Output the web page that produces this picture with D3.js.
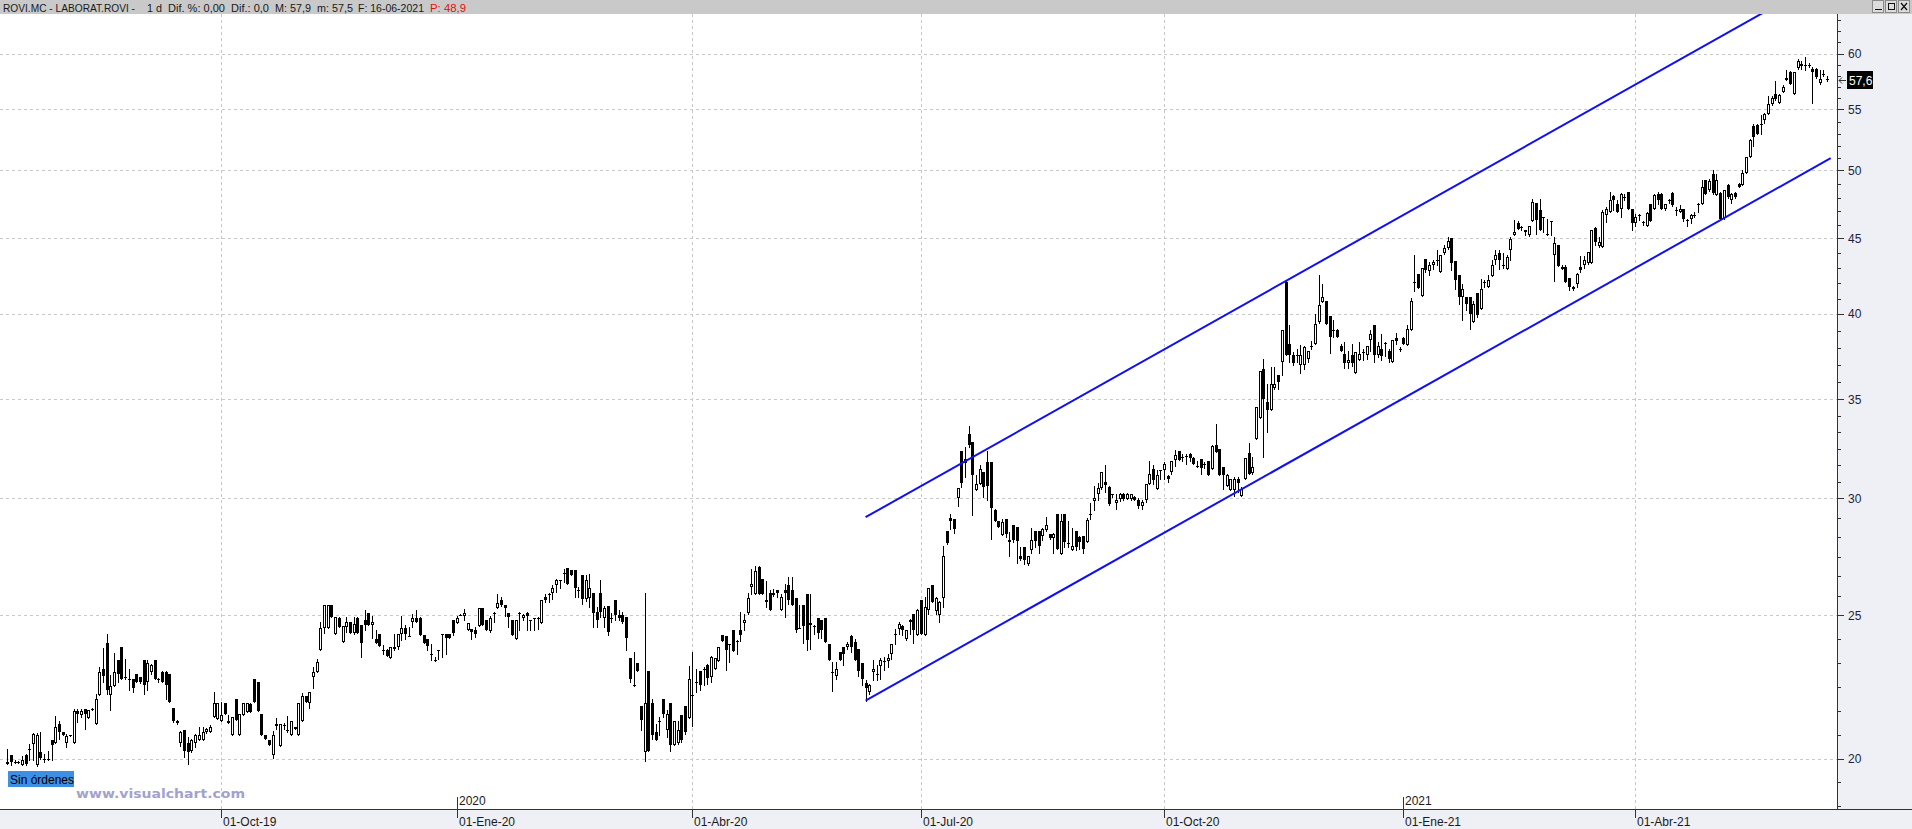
<!DOCTYPE html>
<html><head><meta charset="utf-8">
<script src="https://cdn.jsdelivr.net/npm/d3@7"></script>
<style>html,body{margin:0;padding:0;background:#fff;overflow:hidden}</style>
</head><body>
<svg id="c" width="1912" height="829"></svg>
<script>
// Daily candles [open, high, low, close], 11-Jul-2019 .. 16-Jun-2021
const candles = [
[19.89,20.30,19.83,19.83],[20.12,20.12,19.81,19.89],[19.90,19.94,19.86,19.89],[19.88,19.92,19.86,19.90],[19.81,20.09,19.80,19.94],
[20.12,20.14,19.81,19.83],[20.30,20.46,19.94,20.28],[20.46,20.80,19.94,20.78],[19.81,20.80,19.78,20.73],[20.20,20.83,19.99,20.02],
[19.99,20.15,19.89,19.99],[20.00,20.25,19.94,19.99],[20.59,20.59,19.94,20.43],[20.49,21.36,20.49,21.02],[21.11,21.22,20.62,20.83],
[20.83,20.85,20.74,20.76],[20.49,20.79,20.36,20.72],[20.73,20.75,20.70,20.74],[20.49,21.61,20.49,21.52],[21.52,21.61,21.17,21.44],
[21.41,21.61,21.33,21.52],[21.61,21.61,20.95,21.44],[21.31,21.58,21.31,21.58],[21.60,21.63,21.58,21.61],[21.11,22.13,21.11,21.93],
[22.09,23.08,22.09,22.89],[23.01,23.74,22.53,22.75],[23.93,24.29,22.12,22.26],[22.09,22.78,21.56,22.40],[22.40,23.56,22.40,22.89],
[23.32,23.32,22.53,22.83],[23.81,23.81,22.63,22.63],[22.68,23.36,22.63,22.70],[22.60,23.01,22.26,22.63],[22.63,22.63,22.18,22.32],
[22.80,22.82,22.53,22.53],[22.70,22.72,22.50,22.53],[23.32,23.32,22.13,22.43],[22.53,23.32,22.24,23.20],[22.89,23.19,22.83,23.13],
[23.32,23.32,22.63,22.63],[22.62,22.66,22.53,22.64],[22.90,22.92,22.53,22.53],[22.90,22.92,21.95,22.43],[22.80,22.80,21.83,21.83],
[21.63,21.63,21.17,21.22],[21.22,21.24,21.10,21.13],[20.48,20.88,20.40,20.83],[20.91,20.91,20.04,20.23],[20.49,20.69,19.83,20.20],
[20.23,20.61,20.20,20.59],[20.49,20.79,20.36,20.73],[20.59,21.00,20.57,20.73],[20.59,21.00,20.57,20.83],[20.83,20.97,20.82,20.95],
[20.83,21.08,20.83,21.00],[21.33,22.20,21.33,21.80],[21.27,21.82,21.27,21.81],[21.22,21.83,21.22,21.41],[21.80,21.80,21.44,21.44],
[21.22,21.39,21.14,21.14],[20.73,21.33,20.73,21.33],[21.93,21.93,21.24,21.24],[20.73,21.42,20.73,21.42],[21.41,21.80,21.41,21.80],
[21.50,21.80,21.50,21.80],[21.78,21.80,21.50,21.50],[22.63,22.63,21.83,21.83],[22.53,22.53,21.52,21.52],[21.42,21.42,20.73,20.73],
[20.73,20.73,20.62,20.62],[20.59,20.59,20.43,20.43],[20.11,20.88,20.01,20.73],[21.03,21.30,20.95,21.11],[20.39,21.11,20.39,21.11],
[21.06,21.14,20.93,21.08],[20.91,21.36,20.83,20.92],[20.73,21.20,20.73,21.20],[21.02,21.02,20.95,20.95],[20.73,21.81,20.73,21.81],
[21.22,22.14,21.22,22.03],[22.03,22.03,21.83,21.83],[21.81,22.18,21.63,22.18],[22.70,23.08,22.32,22.90],[22.89,23.37,22.89,23.23],
[23.69,24.73,23.69,24.52],[24.52,25.41,24.31,25.41],[24.52,25.41,24.52,25.41],[25.41,25.41,24.93,24.93],[24.29,24.93,24.29,24.93],
[24.90,24.92,24.54,24.54],[23.98,24.58,23.98,24.58],[24.54,24.95,24.34,24.73],[24.73,24.73,24.31,24.31],[24.31,24.93,24.29,24.67],
[24.90,24.92,24.31,24.31],[24.61,24.61,23.43,23.94],[24.80,25.21,24.43,24.61],[25.08,25.08,24.63,24.63],[24.64,24.97,24.14,24.73],
[24.10,24.42,23.93,23.94],[24.29,24.29,23.83,23.83],
[23.63,23.86,23.54,23.70],[23.70,23.72,23.45,23.45],[23.40,23.79,23.38,23.79],[23.72,24.29,23.70,23.79],[23.80,24.29,23.72,24.29],
[24.29,24.99,24.04,24.50],[24.50,24.61,24.11,24.29],[24.22,24.54,24.20,24.21],[24.74,25.06,24.54,24.89],[24.90,25.20,24.74,24.74],
[24.90,24.92,24.23,24.23],[24.23,24.23,23.95,23.95],[24.11,24.11,23.67,23.84],[23.52,23.92,23.33,23.50],[23.31,23.42,23.28,23.30],
[23.70,23.70,23.37,23.69],[24.25,24.29,23.42,24.27],[24.27,24.29,23.54,24.15],[24.27,24.27,24.14,24.14],[24.80,24.80,24.23,24.32],
[24.70,24.99,24.70,24.90],[25.02,25.04,25.00,25.03],[24.99,25.25,24.80,25.09],[24.42,24.71,24.42,24.71],[24.48,24.48,24.11,24.36],
[24.42,24.54,24.18,24.27],[24.58,25.29,24.58,25.29],[25.29,25.29,24.64,24.64],[24.80,24.80,24.42,24.42],[24.39,24.99,24.36,24.90],
[25.06,25.12,24.74,25.08],[25.29,25.85,25.29,25.48],[25.61,25.72,25.38,25.42],[25.42,25.42,24.99,25.28],[25.08,25.08,24.54,24.95],
[24.80,24.80,24.23,24.23],[24.11,24.80,24.11,24.80],[25.07,25.12,24.42,25.09],[24.89,25.06,24.80,25.00],[25.08,25.12,24.44,24.99],
[24.79,24.80,24.42,24.80],[24.88,24.90,24.42,24.89],[24.89,24.92,24.48,24.90],[24.71,25.61,24.71,25.61],[25.72,25.85,25.52,25.61],
[25.84,25.88,25.52,25.85],[25.88,26.19,25.65,26.09],[26.22,26.46,25.92,26.42],[26.40,26.42,26.09,26.42],[26.70,26.88,26.33,26.71],
[26.92,26.92,26.26,26.26],[26.81,26.81,26.60,26.60],[26.81,26.81,25.72,26.09],[26.00,26.12,25.72,26.01],[26.60,26.60,25.45,25.65],
[25.63,26.60,25.58,26.42],[25.69,26.65,25.32,26.09],[25.88,25.88,24.54,25.08],[25.12,25.32,24.54,24.82],[25.88,26.42,24.92,25.12],
[24.90,25.38,24.54,25.29],[25.38,25.38,24.23,24.36],[24.88,25.08,24.74,24.89],[25.61,25.61,24.80,25.03],[25.01,25.19,24.80,24.89],
[25.01,25.12,24.70,24.74],[24.92,24.92,23.70,24.14],[23.40,23.40,22.54,22.63],[22.42,23.60,22.39,22.42],[23.22,23.22,22.92,22.92],
[21.72,21.72,20.92,21.24],[20.21,25.88,19.92,21.81],[22.91,22.91,20.23,20.23],[21.81,21.95,20.62,20.73],[20.83,21.11,20.57,20.60],
[21.18,21.33,20.73,21.19],[21.93,21.93,21.33,21.44],[20.92,21.56,20.67,21.42],[21.81,21.81,20.25,20.43],[20.43,21.20,20.43,21.20],
[20.49,21.21,20.46,20.91],[21.41,21.41,20.52,20.60],[21.72,21.72,20.78,20.83],[21.31,23.09,21.31,22.63],[22.05,23.62,21.05,22.09],
[22.50,22.98,22.18,22.52],[22.91,22.91,22.24,22.44],[22.98,23.06,22.42,23.00],[23.12,23.18,22.47,22.68],[22.70,23.45,22.54,23.42],
[23.00,23.40,23.00,23.40],[23.28,23.79,23.28,23.79],[24.23,24.23,24.01,24.01],[24.20,24.20,22.94,23.70],[23.90,23.92,23.24,23.92],
[24.42,24.42,23.65,23.65],[24.00,24.04,23.54,24.02],[24.42,25.12,24.02,24.23],[24.71,25.06,24.42,24.80],[25.09,25.88,25.06,25.69],
[26.11,26.88,25.85,26.25],[25.85,26.98,25.85,26.78],[26.95,26.98,25.85,25.85],[26.44,26.44,25.85,25.85],[25.51,26.39,25.32,25.60],
[25.89,26.00,25.22,25.22],[25.82,26.05,25.78,25.90],[26.00,26.00,25.72,25.88],[25.22,25.85,25.19,25.72],[26.00,26.26,24.93,25.88],
[26.22,26.53,25.45,25.62],[26.00,26.53,25.42,25.42],[25.69,25.69,24.36,24.42],[24.50,25.42,24.50,24.52],[25.40,25.40,23.95,24.58],
[25.83,25.83,23.67,24.04],[24.61,25.83,23.73,24.71],[24.58,24.62,24.29,24.56],[24.90,24.90,24.13,24.33],[24.80,24.80,24.13,24.45],
[24.90,24.90,23.98,23.98],[23.91,23.91,23.30,23.30],[22.90,23.24,22.23,22.88],[22.76,23.24,22.64,23.00],[23.61,23.61,23.30,23.30],
[23.79,23.79,23.12,23.54],[23.79,23.98,23.73,23.91],[24.19,24.23,23.61,23.79],[23.98,24.10,23.30,23.30],[23.73,23.73,22.76,22.91],
[23.20,23.20,22.41,22.64],[22.49,22.59,21.89,22.32],[22.17,22.47,22.12,22.41],[22.88,23.30,22.59,23.00],[22.79,23.12,22.61,22.80],
[23.09,23.39,22.64,23.30],[23.28,23.42,22.94,23.26],[23.27,23.54,23.06,23.39],[23.52,23.91,23.36,23.91],[24.29,24.48,23.91,24.29],
[24.46,24.74,24.29,24.68],[24.58,24.61,24.23,24.42],[24.10,24.45,24.06,24.42],[24.74,24.87,24.29,24.80],[25.06,25.06,23.95,24.42],
[24.23,25.25,24.23,25.19],[25.62,25.62,24.30,24.30],[24.23,25.72,24.23,25.32],[25.22,26.10,25.06,26.10],[26.22,26.22,25.52,25.52],
[25.16,25.72,25.06,25.69],[25.03,25.58,24.74,25.52],[25.69,27.87,25.32,27.40],[28.50,28.50,27.94,27.96],[29.09,29.28,28.61,28.95],
[29.06,29.06,28.42,28.61],[30.00,30.49,29.62,30.49],[32.29,32.29,30.52,30.72],[31.72,32.50,31.01,31.90],[33.14,33.60,32.51,32.61],
[32.74,32.74,29.21,31.12],[30.37,31.09,30.37,30.68],[30.68,31.59,30.68,31.41],[31.26,31.26,30.05,30.52],[31.74,32.32,29.90,30.60],
[31.74,31.74,28.16,29.56],[29.44,29.51,28.95,28.95],[28.95,28.95,28.68,28.71],[28.35,29.06,28.35,28.93],[29.04,29.04,28.24,28.38],
[28.12,28.46,27.44,28.02],[28.80,28.80,28.02,28.12],[28.68,28.68,27.12,28.09],[27.40,27.80,27.27,27.30],[27.80,27.82,27.09,27.27],
[27.09,27.40,27.02,27.40],[27.69,28.65,27.55,28.12],[28.50,28.50,27.80,28.06],[28.50,28.50,27.55,27.85],[28.31,28.65,28.12,28.61],
[28.57,29.13,28.50,28.76],[28.38,28.38,28.16,28.21],[28.21,28.41,27.55,28.38],[29.28,29.28,27.73,27.73],[27.51,29.28,27.51,28.95],
[29.28,29.28,27.80,28.02],[27.96,28.98,27.80,27.98],[27.66,28.65,27.66,27.83],[28.53,28.53,27.66,27.80],[28.24,28.31,27.73,28.02],
[28.27,28.27,27.55,27.73],[28.02,29.09,28.02,29.01],[29.25,29.78,29.06,29.28],[29.88,30.56,29.44,30.03],[30.21,30.72,29.93,30.49],
[30.49,31.26,30.45,31.26],[30.76,31.59,30.29,30.64],[30.55,30.60,29.67,29.75],[30.17,30.21,30.05,30.19],[29.80,30.21,29.51,29.90],
[29.95,30.25,29.88,30.18],[30.21,30.25,29.94,29.95],[29.98,30.25,29.95,30.21],[29.98,30.21,29.94,30.19],[30.05,30.10,29.90,29.93],
[29.90,30.00,29.55,29.65],[29.65,29.90,29.50,29.85],[29.90,30.68,29.85,30.68],[30.68,31.82,30.68,31.17],[31.41,31.58,30.68,30.89],
[30.44,31.33,30.44,31.09],[31.30,31.36,30.93,31.33],[31.33,31.74,30.93,31.63],[31.04,31.09,30.76,30.93],[31.25,31.82,31.17,31.82],
[31.86,32.33,31.54,32.10],[32.28,32.30,31.86,31.86],[31.97,32.15,31.78,31.99],[32.00,32.15,31.66,32.03],[32.15,32.18,31.82,31.93],
[31.95,31.99,31.66,31.66],[31.55,31.82,31.50,31.52],[31.90,31.90,31.17,31.43],[31.62,31.74,31.43,31.63],[31.82,31.82,31.09,31.09],
[31.41,32.58,31.41,32.53],[32.61,33.69,32.24,32.24],[32.41,32.41,31.09,31.09],[31.52,31.52,30.44,31.09],[30.57,31.17,30.57,31.13],
[30.40,30.93,30.37,30.90],[30.37,31.01,30.13,30.93],[30.90,31.01,30.29,30.72],[30.13,30.52,30.13,30.44],[30.92,31.93,30.92,31.93],
[32.19,32.69,31.17,31.17],[31.20,32.00,31.17,31.52],[32.92,34.58,32.92,34.58],[34.01,36.56,34.01,36.56],[36.71,37.28,31.99,35.03],
[34.85,35.86,33.26,34.40],[34.40,36.80,34.40,35.85],[35.65,36.80,35.58,35.86],[36.33,36.33,35.58,35.95],[37.09,39.02,36.33,38.97],
[42.02,42.10,37.48,37.48],[38.13,39.33,37.09,37.53],[37.53,37.67,36.90,37.04],[37.45,37.87,37.09,37.48],[36.90,38.07,36.47,37.48],
[36.90,38.01,36.71,37.97],[37.28,37.77,37.09,37.72],[37.98,38.36,37.87,38.01],[38.17,39.99,38.17,39.38],[39.48,42.46,39.43,40.52],
[40.73,41.91,40.73,41.05],[40.83,40.83,39.38,39.38],[39.83,39.83,37.62,38.57],[39.00,39.58,38.57,39.01],[39.01,39.05,38.57,38.57],
[38.01,38.17,37.72,37.77],[37.58,38.26,36.76,37.04],[37.04,37.77,36.76,37.24],[37.53,38.17,36.85,37.04],[36.47,37.67,36.47,37.67],
[37.24,38.26,37.19,37.58],[37.60,37.87,37.19,37.67],[37.48,38.01,37.28,38.01],[38.40,38.97,37.77,38.73],[39.33,39.33,37.09,37.48],
[37.53,38.26,37.38,38.01],[37.87,38.73,37.24,37.43],[38.13,38.26,37.43,38.21],[37.77,37.87,37.09,37.28],[37.09,38.40,37.09,38.40],
[38.53,38.81,38.17,38.32],[37.88,37.97,37.77,37.85],[38.53,38.57,38.13,38.17],[38.07,39.28,38.07,39.07],[38.97,40.99,38.97,40.83],
[42.02,43.80,41.44,42.00],[42.52,42.52,41.65,41.65],[41.15,42.94,41.15,42.94],[43.57,43.57,42.68,42.79],[42.75,43.35,42.46,43.13],
[43.13,43.46,42.90,43.35],[43.44,44.14,43.13,43.48],[42.68,43.80,42.68,43.80],[43.95,44.55,43.91,44.32],[44.32,45.07,44.25,44.83],
[45.02,45.02,42.79,43.30],[43.44,43.44,41.56,42.17],[42.50,42.50,40.62,41.05],[41.05,41.91,39.58,41.58],[41.05,41.05,40.20,40.62],
[41.05,41.05,39.07,39.99],[39.48,40.83,39.48,40.62],[41.30,41.30,39.79,39.89],[40.31,42.24,40.31,41.58],[41.98,42.16,41.69,42.02],
[41.73,42.46,41.69,42.13],
[42.45,43.46,42.45,43.16],[43.50,44.19,43.23,43.80],[43.95,44.14,42.90,43.46],[43.14,43.95,42.96,43.10],[42.90,43.80,42.90,43.68],
[44.19,45.11,43.46,44.95],[45.19,46.30,45.19,45.42],[46.06,46.22,45.66,45.66],[45.78,45.89,45.54,45.76],[45.42,45.58,45.19,45.54],
[45.19,45.89,45.12,45.89],[46.25,47.85,46.25,47.60],[47.52,47.52,45.30,46.30],[47.03,47.80,45.60,45.60],[46.45,46.54,45.42,46.49],
[45.25,46.37,45.19,45.30],[46.25,46.25,45.19,46.13],[43.80,45.07,42.12,44.65],[44.49,44.49,43.10,43.10],[42.89,43.14,42.89,43.01],
[43.01,43.14,42.00,42.00],[42.30,42.30,41.52,41.69],[41.58,41.79,41.50,41.69],[41.90,42.60,41.69,42.56],[43.01,43.77,42.67,42.80],
[43.14,43.77,42.96,43.46],[43.28,44.02,43.23,44.02],[43.28,45.60,43.28,45.54],[45.73,45.77,44.49,44.70],[44.44,45.07,44.37,44.72],
[44.37,46.98,44.37,46.86],[46.62,47.20,46.13,47.11],[46.84,48.34,46.84,47.72],[48.02,48.10,46.98,47.77],[47.42,47.77,46.84,46.86],
[47.11,48.30,46.49,48.22],[47.95,48.22,47.77,47.97],[48.39,48.39,47.11,47.11],[47.11,47.11,45.58,46.06],[46.06,46.74,45.89,46.54],
[46.64,46.74,46.30,46.67],[46.15,46.25,45.96,46.13],[45.89,46.86,45.89,46.79],[47.42,47.47,46.20,46.20],[47.11,48.22,47.11,48.10],
[48.22,48.34,47.47,47.77],[48.22,48.27,47.11,47.11],[47.06,47.47,47.01,47.47],[47.71,47.85,47.52,47.75],[48.27,48.32,47.28,47.35],
[47.02,47.23,46.62,47.04],[46.86,47.35,46.84,47.11],[47.11,47.11,46.20,46.37],[46.27,46.37,45.89,46.23],[46.37,46.74,46.06,46.62],
[46.60,46.86,46.49,46.62],[47.35,47.52,46.86,47.47],[47.47,49.28,47.42,48.72],[49.23,49.28,48.22,48.22],[48.47,49.36,48.40,49.18],
[49.69,50.00,48.20,48.27],[48.10,49.74,48.10,49.30],[48.27,48.34,46.37,46.37],[46.40,48.52,46.37,48.52],[48.92,48.97,47.90,47.97],
[47.72,48.30,47.55,48.22],[48.27,48.34,47.92,47.97],[48.97,49.05,48.70,48.72],[48.92,50.00,48.92,49.79],[49.79,51.10,49.79,51.05],
[51.05,52.49,51.05,52.45],[53.63,53.77,51.98,52.72],[53.71,53.77,52.95,52.95],[53.75,54.48,52.95,53.71],[54.10,54.68,53.83,54.62],
[54.62,56.12,54.62,55.42],[55.42,56.12,55.34,56.00],[56.35,57.47,55.83,55.91],[55.54,56.35,55.54,56.20],[56.50,57.09,56.50,56.94],
[57.53,58.50,57.53,57.74],[58.29,58.38,57.23,57.23],[56.35,58.29,56.35,58.29],[58.68,59.50,58.59,59.29],[59.05,59.29,58.59,58.80],
[58.92,59.72,58.50,58.89],[58.95,59.11,58.74,58.92],[58.59,58.74,55.53,58.29],[58.59,58.62,57.77,57.83],[57.29,58.44,57.23,57.68],
[58.13,58.47,57.92,58.10],[57.70,57.90,57.50,57.60]
];

const yTickValues = [20, 25, 30, 35, 40, 45, 50, 55, 60];
const dateTickIndex = [58, 122, 186, 248, 314, 379, 442];
const dateTickLabels = ["01-Oct-19", "01-Ene-20", "01-Abr-20", "01-Jul-20", "01-Oct-20", "01-Ene-21", "01-Abr-21"];
const yearLabels = [null, "2020", null, null, null, "2021", null];
const lowerChannel = [[233, 21.89], [495, 50.97]];
const upperChannel = [[233, 29.13], [495, 67.83]];
const lastPrice = "57,6";
const headerParts = [
  ["ROVI.MC - LABORAT.ROVI -", 3, 132],
  ["1 d", 147, 15],
  ["Dif. %: 0,00", 168, 57],
  ["Dif.: 0,0", 231, 38],
  ["M: 57,9", 275, 36],
  ["m: 57,5", 317, 36],
  ["F: 16-06-2021", 358, 66],
  ["P: 48,9", 430, 36]
];

const W = 1912, H = 829;
const P = {l: 0, r: 1837, t: 14, b: 809};
const FONT = "'Liberation Sans', Arial, sans-serif";

const svg = d3.select("#c");
const x = d3.scaleLinear().domain([0, candles.length - 1]).range([7.3, 1827]);
const y = d3.scaleLog().domain([20, 60]).range([758.5, 53.5]);

// backgrounds
svg.append("rect").attr("width", W).attr("height", H).attr("fill", "#fff");
svg.append("rect").attr("x", 0).attr("y", 0).attr("width", W).attr("height", P.t).attr("fill", "#c9c9c9");
svg.append("rect").attr("x", P.r + 1).attr("y", P.t).attr("width", W - P.r - 1).attr("height", P.b - P.t).attr("fill", "#eef0f5");
svg.append("rect").attr("x", 0).attr("y", P.b + 1).attr("width", W).attr("height", H - P.b - 1).attr("fill", "#eef0f5");

svg.append("defs").append("clipPath").attr("id", "plotclip")
  .append("rect").attr("x", P.l).attr("y", P.t).attr("width", P.r - P.l).attr("height", P.b - P.t);

const grid = svg.append("g").attr("clip-path", "url(#plotclip)");
grid.selectAll("line.h").data(yTickValues).join("line")
  .attr("x1", P.l).attr("x2", P.r)
  .attr("y1", d => Math.round(y(d)) + 0.5).attr("y2", d => Math.round(y(d)) + 0.5)
  .attr("stroke", "#c6cac8").attr("stroke-dasharray", "3,3").attr("shape-rendering", "crispEdges");
grid.selectAll("line.v").data(dateTickIndex.filter((d, k) => !yearLabels[k])).join("line")
  .attr("x1", d => Math.round(x(d)) + 0.5).attr("x2", d => Math.round(x(d)) + 0.5)
  .attr("y1", P.t).attr("y2", P.b)
  .attr("stroke", "#c6c8c8").attr("stroke-dasharray", "3,3").attr("shape-rendering", "crispEdges");

// candles
const cg = svg.append("g").attr("clip-path", "url(#plotclip)").attr("shape-rendering", "crispEdges");
candles.forEach((c, i) => {
  const [o, h, l, cl] = c;
  const cx = Math.round(x(i));
  cg.append("line").attr("x1", cx + 0.5).attr("x2", cx + 0.5)
    .attr("y1", Math.round(y(h))).attr("y2", Math.round(y(l)) + 1).attr("stroke", "#000");
  const top = Math.round(y(Math.max(o, cl)));
  const bot = Math.round(y(Math.min(o, cl)));
  const hh = Math.max(1, bot - top);
  if (cl >= o) {
    if (hh <= 2) {
      cg.append("rect").attr("x", cx - 1).attr("y", top).attr("width", 3).attr("height", Math.max(1, hh)).attr("fill", "#000");
    } else {
      cg.append("rect").attr("x", cx - 0.5).attr("y", top + 0.5).attr("width", 2).attr("height", hh - 1)
        .attr("fill", "#fff").attr("stroke", "#000").attr("stroke-width", 1);
    }
  } else {
    cg.append("rect").attr("x", cx - 1).attr("y", top).attr("width", 3).attr("height", hh).attr("fill", "#000");
  }
});

// channel lines
const line = d3.line().x(d => x(d[0])).y(d => y(d[1]));
const chg = svg.append("g").attr("clip-path", "url(#plotclip)");
[lowerChannel, upperChannel].forEach(ch => {
  chg.append("path").attr("d", line(ch)).attr("fill", "none").attr("stroke", "#1010f0").attr("stroke-width", 2);
});

// axes
const axisColor = "#333";
svg.append("line").attr("x1", P.r + 0.5).attr("x2", P.r + 0.5).attr("y1", P.t).attr("y2", P.b + 1)
  .attr("stroke", axisColor).attr("shape-rendering", "crispEdges");
svg.append("line").attr("x1", 0).attr("x2", W).attr("y1", P.b + 0.5).attr("y2", P.b + 0.5)
  .attr("stroke", axisColor).attr("shape-rendering", "crispEdges");

// y ticks (major + minor)
const majorY = yTickValues.map(v => y(v));
const minorY = [];
for (let k = 0; k < majorY.length - 1; k++) {
  const n = yTickValues[k] < 35 ? 6 : 5;
  for (let j = 1; j < n; j++) minorY.push(majorY[k] + (majorY[k + 1] - majorY[k]) * j / n);
}
{
  const stepTop = (majorY[majorY.length - 2] - majorY[majorY.length - 1]) / 5;
  for (let yy = majorY[majorY.length - 1] - stepTop; yy > P.t; yy -= stepTop) minorY.push(yy);
  const stepBot = (majorY[0] - majorY[1]) / 6;
  for (let yy = majorY[0] + stepBot; yy < P.b; yy += stepBot) minorY.push(yy);
}
const yax = svg.append("g").attr("shape-rendering", "crispEdges");
yax.selectAll("line.mj").data(yTickValues).join("line")
  .attr("x1", P.r + 1).attr("x2", P.r + 7)
  .attr("y1", d => Math.round(y(d)) + 0.5).attr("y2", d => Math.round(y(d)) + 0.5).attr("stroke", axisColor);
yax.selectAll("line.mn").data(minorY).join("line")
  .attr("x1", P.r + 1).attr("x2", P.r + 4)
  .attr("y1", d => Math.round(d) + 0.5).attr("y2", d => Math.round(d) + 0.5).attr("stroke", axisColor);
svg.append("g").selectAll("text").data(yTickValues).join("text")
  .attr("x", 1848).attr("y", d => y(d) + 4.5)
  .attr("font-family", FONT).attr("font-size", 12).attr("fill", "#1e1e3c")
  .text(d => d3.format("d")(d));

// x ticks
const xax = svg.append("g");
dateTickIndex.forEach((di, k) => {
  const tx = Math.round(x(di)) + 0.5;
  const isYear = !!yearLabels[k];
  xax.append("line").attr("x1", tx).attr("x2", tx)
    .attr("y1", isYear ? 797 : P.b).attr("y2", 818).attr("stroke", axisColor).attr("shape-rendering", "crispEdges");
  xax.append("text").attr("x", tx + 1.5).attr("y", 826)
    .attr("font-family", FONT).attr("font-size", 12).attr("fill", "#1a1a1a").text(dateTickLabels[k]);
  if (isYear) {
    xax.append("text").attr("x", tx + 1.5).attr("y", 805)
      .attr("font-family", FONT).attr("font-size", 12).attr("fill", "#1a1a1a").text(yearLabels[k]);
  }
});

// last price label
const lpY = y(57.6);
svg.append("rect").attr("x", 1847).attr("y", Math.round(lpY) - 9).attr("width", 26).attr("height", 18).attr("fill", "#000");
svg.append("text").attr("x", 1849).attr("y", Math.round(lpY) + 4.5)
  .attr("font-family", FONT).attr("font-size", 12).attr("fill", "#fff").text(lastPrice);
svg.append("path").attr("d", `M${P.r + 2},${Math.round(lpY) + 0.5}H${P.r + 9}M${P.r + 5},${Math.round(lpY) - 2.5}L${P.r + 2},${Math.round(lpY) + 0.5}L${P.r + 5},${Math.round(lpY) + 3.5}`)
  .attr("stroke", "#333").attr("fill", "none");

// "Sin órdenes" badge
svg.append("rect").attr("x", 8).attr("y", 771).attr("width", 66).attr("height", 16).attr("fill", "#3d8fe3");
svg.append("text").attr("x", 10).attr("y", 783.5).attr("font-family", FONT).attr("font-size", 12)
  .attr("fill", "#000").text("Sin órdenes");

// watermark
svg.append("text").attr("x", 76).attr("y", 798).attr("font-family", "'DejaVu Sans', Verdana, sans-serif")
  .attr("font-weight", "bold").attr("font-size", 13).attr("fill", "#a2a2ce")
  .attr("textLength", 169).attr("lengthAdjust", "spacingAndGlyphs").text("www.visualchart.com");

// header text
headerParts.forEach((hp, k) => {
  svg.append("text").attr("x", hp[1]).attr("y", 11.5)
    .attr("font-family", FONT).attr("font-size", 10.5)
    .attr("fill", k === headerParts.length - 1 ? "#e01010" : "#1a1a1a")
    .attr("textLength", hp[2]).attr("lengthAdjust", "spacingAndGlyphs").text(hp[0]);
});

// window buttons
const btn = svg.append("g").attr("shape-rendering", "crispEdges");
[1872, 1885, 1898].forEach(bx => {
  btn.append("rect").attr("x", bx + 0.5).attr("y", 0.5).attr("width", 11).attr("height", 12)
    .attr("fill", "#dcdcdc").attr("stroke", "#8a8a8a");
});
btn.append("line").attr("x1", 1875).attr("x2", 1882).attr("y1", 9.5).attr("y2", 9.5).attr("stroke", "#111").attr("stroke-width", 1);
btn.append("rect").attr("x", 1888.5).attr("y", 3.5).attr("width", 6).attr("height", 6).attr("fill", "none").attr("stroke", "#111");
btn.append("path").attr("d", "M1901,3L1907,10M1907,3L1901,10").attr("stroke", "#111").attr("stroke-width", 1.3).attr("shape-rendering", "auto");
</script>
</body></html>
